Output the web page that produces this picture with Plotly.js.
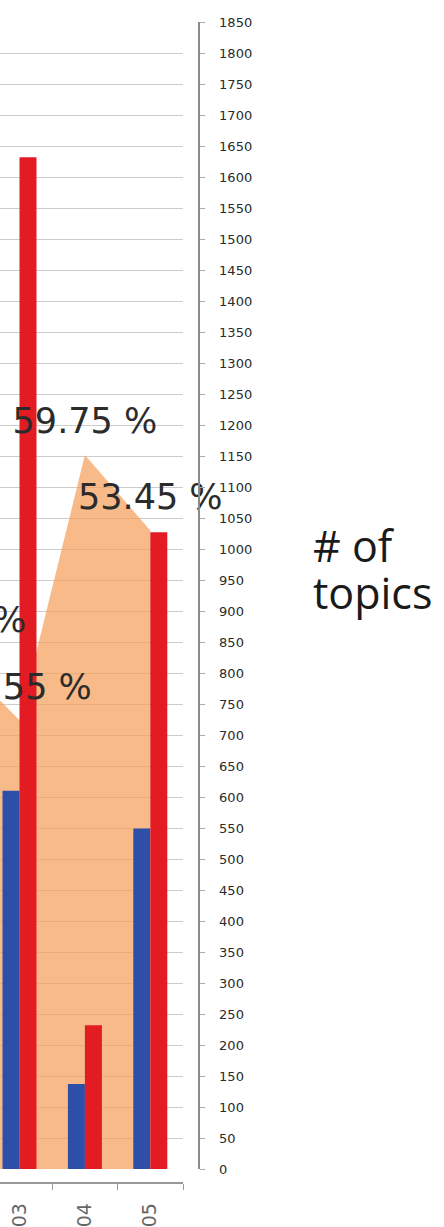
<!DOCTYPE html>
<html><head><meta charset="utf-8">
<script src="https://cdn.plot.ly/plotly-3.0.1.min.js"></script>
<style>html,body{margin:0;padding:0;background:#fff;overflow:hidden;width:444px;height:1227px}#chart{position:absolute;top:0;left:-120px;width:564px;height:1227px}</style>
</head><body><div id="chart"></div>
<script>
// Data read from the (cropped) reference picture
const categories = ["2002", "2003", "2004", "2005"];
const topicsBlue = [null, 610, 137, 549];
const topicsRed = [null, 1632, 232, 1027];
const sharePct = [43.1, 37.55, 59.75, 53.45];
const shareLabels = ["43.10 %", "37.55 %", "59.75 %", "53.45 %"];
const titleLines = ["# of", "topics"];

// The reference is a crop of a wider chart: the plot extends past the left edge of the window.
const CROP = 120;
const W = 444 + CROP, H = 1227;
const mL = 0, mR = 246, mT = 22, mB = 45;
const paperW = W - mL - mR, paperH = H - mT - mB;
const px2paperX = sx => (sx + CROP - mL) / paperW;   // sx: x in window pixels
const px2paperY = py => (H - mB - py) / paperH;

const labelFont = {family: 'DejaVu Sans', size: 35, color: '#2b2b2b'};

const traces = [
  {
    type: 'scatter', x: categories, y: sharePct, yaxis: 'y', xaxis: 'x',
    mode: 'lines', line: {width: 0, color: 'rgba(0,0,0,0)'},
    fill: 'tozeroy', fillcolor: 'rgba(244,160,90,0.72)', hoverinfo: 'skip'
  },
  {
    type: 'bar', x: categories, y: topicsBlue, yaxis: 'y2', xaxis: 'x',
    marker: {color: '#2e4fa8'}, name: 'blue'
  },
  {
    type: 'bar', x: categories, y: topicsRed, yaxis: 'y2', xaxis: 'x',
    marker: {color: '#e31b23'}, name: 'red'
  },
  {
    type: 'scatter', x: categories, y: sharePct, yaxis: 'y3', xaxis: 'x',
    mode: 'markers+text', marker: {size: 19, color: 'rgba(0,0,0,0)'},
    text: shareLabels, textposition: 'top center', cliponaxis: false,
    textfont: labelFont, hoverinfo: 'skip'
  }
];

const domainY0 = (1182 - 1169) / paperH;
// category centre spacing ~65.4 px, 2003 centred at x ~19.5 in the window
const xEnd = 3.5;
const xStart = 1 - (19.5 + CROP) / 65.4;

const layout = {
  width: W, height: H,
  margin: {l: mL, r: mR, t: mT, b: mB, pad: 0},
  paper_bgcolor: '#ffffff', plot_bgcolor: 'rgba(0,0,0,0)',
  showlegend: false,
  barmode: 'group', bargap: 0.48, bargroupgap: 0,
  xaxis: {
    type: 'category', range: [xStart, xEnd], domain: [0, px2paperX(183)],
    anchor: 'free', position: 0,
    showline: true, linecolor: '#999999', linewidth: 1.5,
    ticks: 'outside', tickson: 'boundaries', ticklen: 6, tickcolor: '#999999',
    tickangle: -90, ticklabelstandoff: 12,
    tickfont: {family: 'DejaVu Sans', size: 19, color: '#666666'},
    showgrid: false, zeroline: false, fixedrange: true
  },
  yaxis: {
    range: [0, 96], domain: [domainY0, 1], visible: false, fixedrange: true
  },
  yaxis2: {
    overlaying: 'y', side: 'right', anchor: 'free', position: 1,
    range: [0, 1850], tick0: 0, dtick: 50,
    showline: true, linecolor: '#8a8a8a', linewidth: 1.5,
    ticks: 'outside', ticklen: 5, tickcolor: '#aaaaaa',
    ticklabelstandoff: 12,
    tickfont: {family: 'DejaVu Sans', size: 13, color: '#2b2b2b'},
    showgrid: true, gridcolor: '#cccccc', gridwidth: 1, zeroline: false, fixedrange: true
  },
  yaxis3: {
    overlaying: 'y', range: [0, 96], visible: false, fixedrange: true
  },
  annotations: [
    {xref: 'paper', yref: 'paper', x: px2paperX(311), y: px2paperY(545), xanchor: 'left', yanchor: 'middle',
     text: titleLines[0], showarrow: false, font: {family: 'Open Sans', size: 43, color: '#1a1a1a'}},
    {xref: 'paper', yref: 'paper', x: px2paperX(311), y: px2paperY(592), xanchor: 'left', yanchor: 'middle',
     text: titleLines[1], showarrow: false, font: {family: 'Open Sans', size: 43, color: '#1a1a1a'}}
  ]
};

Plotly.newPlot('chart', traces, layout, {displayModeBar: false, staticPlot: true});
</script>
</body></html>
